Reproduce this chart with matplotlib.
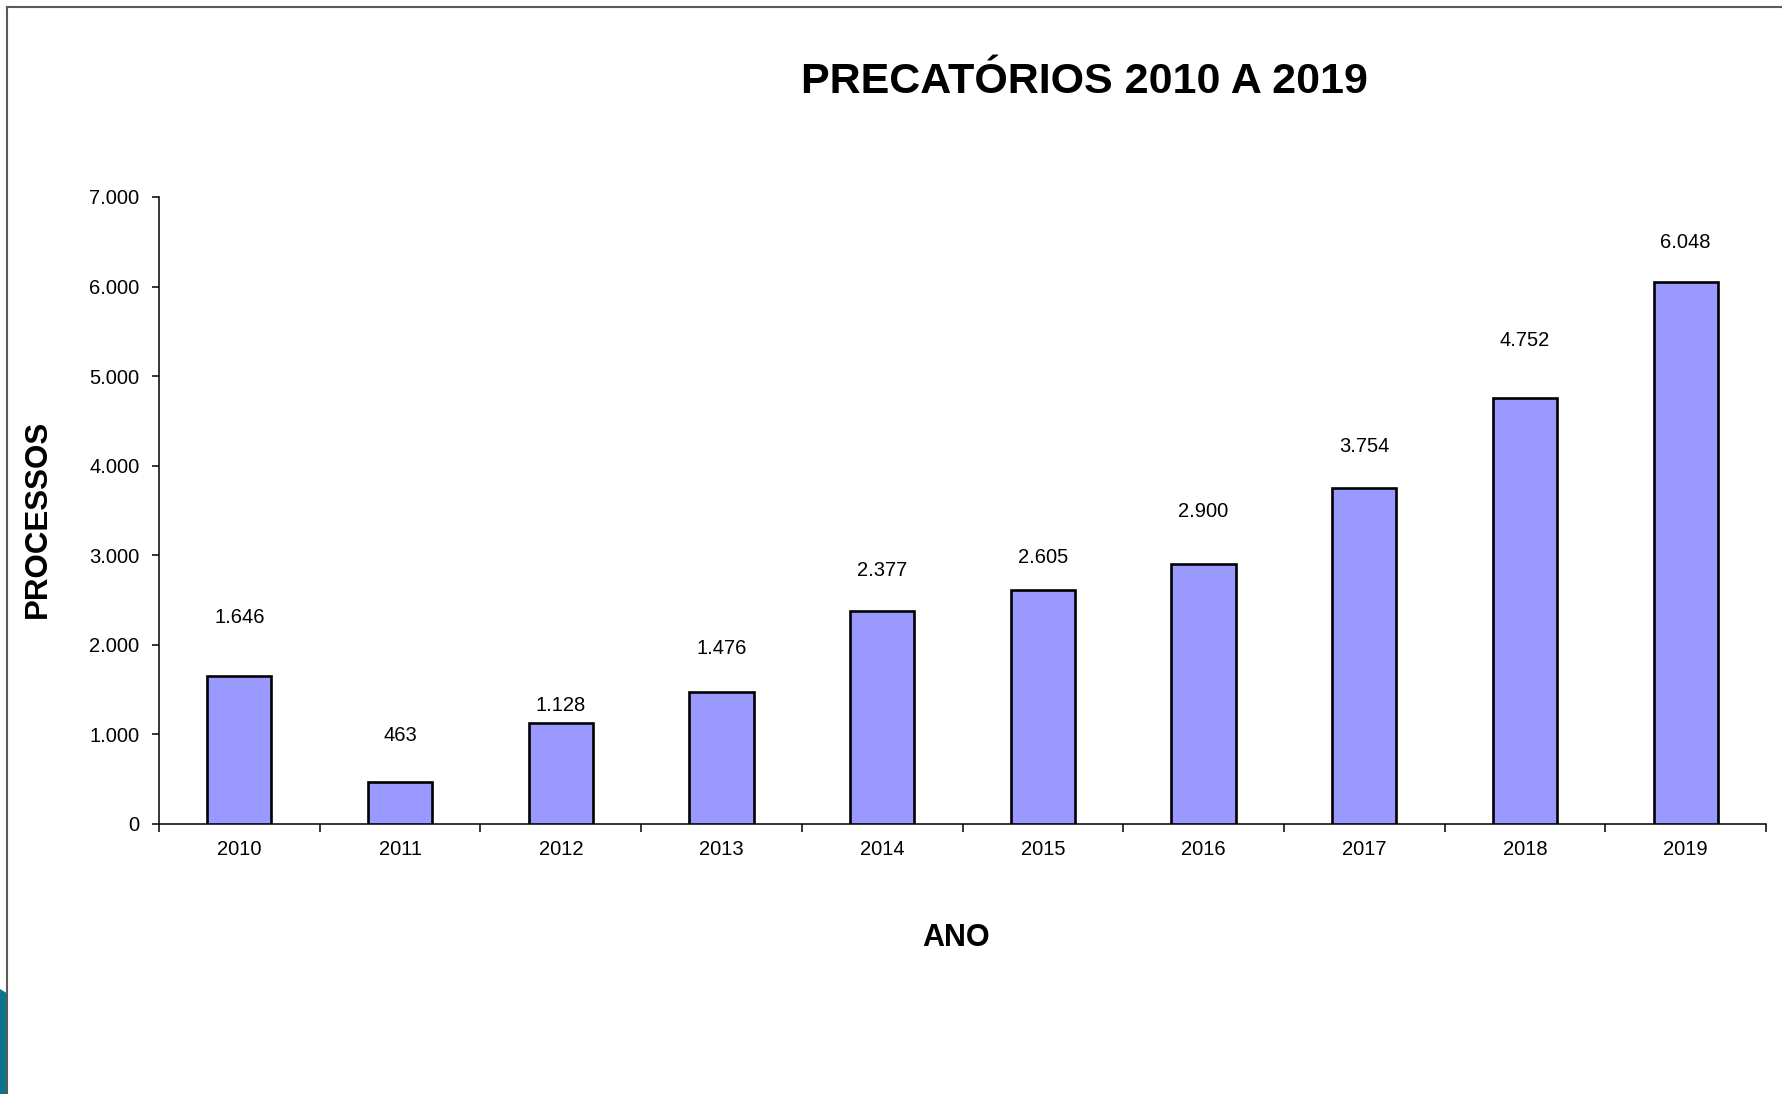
import numpy as np
import matplotlib
matplotlib.use("Agg")
import matplotlib.pyplot as plt
from matplotlib.ticker import FuncFormatter, FixedLocator
from matplotlib.patches import Polygon
from matplotlib.lines import Line2D

plt.rcParams['font.family'] = ['Liberation Sans', 'DejaVu Sans']

# data
years = ["2010", "2011", "2012", "2013", "2014", "2015", "2016", "2017", "2018", "2019"]
processos = [1646, 463, 1128, 1476, 2377, 2605, 2900, 3754, 4752, 6048]
# how far above each bar its label sits (data units, as in the original slide)
label_lift = [654, 522, 195, 481, 449, 373, 592, 458, 648, 445]

def milhar(v, pos=None):
	return f"{int(round(v)):,}".replace(",", ".")

fig = plt.figure(figsize=(17.83, 10.94), dpi=100)
ax = fig.add_axes([159/1783, 1 - 823.7/1094, (1766 - 159)/1783, (823.7 - 197)/1094])

x = np.arange(len(years))
ax.bar(x, processos, width=0.40, color="#9999FF", edgecolor="black", linewidth=1.9, zorder=3)
for xi, v, lift in zip(x, processos, label_lift):
	ax.text(xi, v + lift, milhar(v), ha="center", va="center", fontsize=14.5, color="black")

ax.set_xlim(-0.5, len(years) - 0.5)
ax.set_ylim(0, 7000)
ax.set_yticks(np.arange(0, 7001, 1000))
ax.yaxis.set_major_formatter(FuncFormatter(milhar))
ax.set_xticks(x)
ax.set_xticklabels(years)
ax.xaxis.set_minor_locator(FixedLocator(np.arange(-0.5, len(years), 1.0)))

ax.tick_params(axis="x", which="major", length=0, pad=12, labelsize=14.5)
ax.tick_params(axis="x", which="minor", length=6, width=1.1, direction="out")
ax.tick_params(axis="y", length=5, width=1.1, direction="out", pad=9, labelsize=14.5)

for s in ["top", "right"]:
	ax.spines[s].set_visible(False)
for s in ["left", "bottom"]:
	ax.spines[s].set_linewidth(1.1)

ax.set_xlabel("ANO", fontsize=22, fontweight="bold", va="center")
ax.xaxis.set_label_coords((956 - 159)/1607, (823.7 - 938.5)/626.7)
ax.set_ylabel("PROCESSOS", fontsize=22.5, fontweight="bold", va="center")
ax.yaxis.set_label_coords((38.3 - 159)/1607, (823.7 - 519)/626.7)

fig.text(1084.5/1783, 1 - 82/1094, "PRECATÓRIOS 2010 A 2019", ha="center", va="center",
	fontsize=31, fontweight="bold")

# slide frame and corner decoration
fig.add_artist(Line2D([7.3/1783, 7.3/1783], [0, 1 - 7.3/1094], transform=fig.transFigure,
	color="#5a5a5a", linewidth=1.5))
fig.add_artist(Line2D([7.3/1783, 1], [1 - 7.3/1094, 1 - 7.3/1094], transform=fig.transFigure,
	color="#5a5a5a", linewidth=1.5))
fig.add_artist(Polygon([[0, 1 - 989/1094], [6.5/1783, 1 - 993/1094], [6.5/1783, 0], [0, 0]],
	closed=True, transform=fig.transFigure, facecolor="#0b7590", edgecolor="none"))

fig.savefig("out.png", dpi=100, facecolor="white")
